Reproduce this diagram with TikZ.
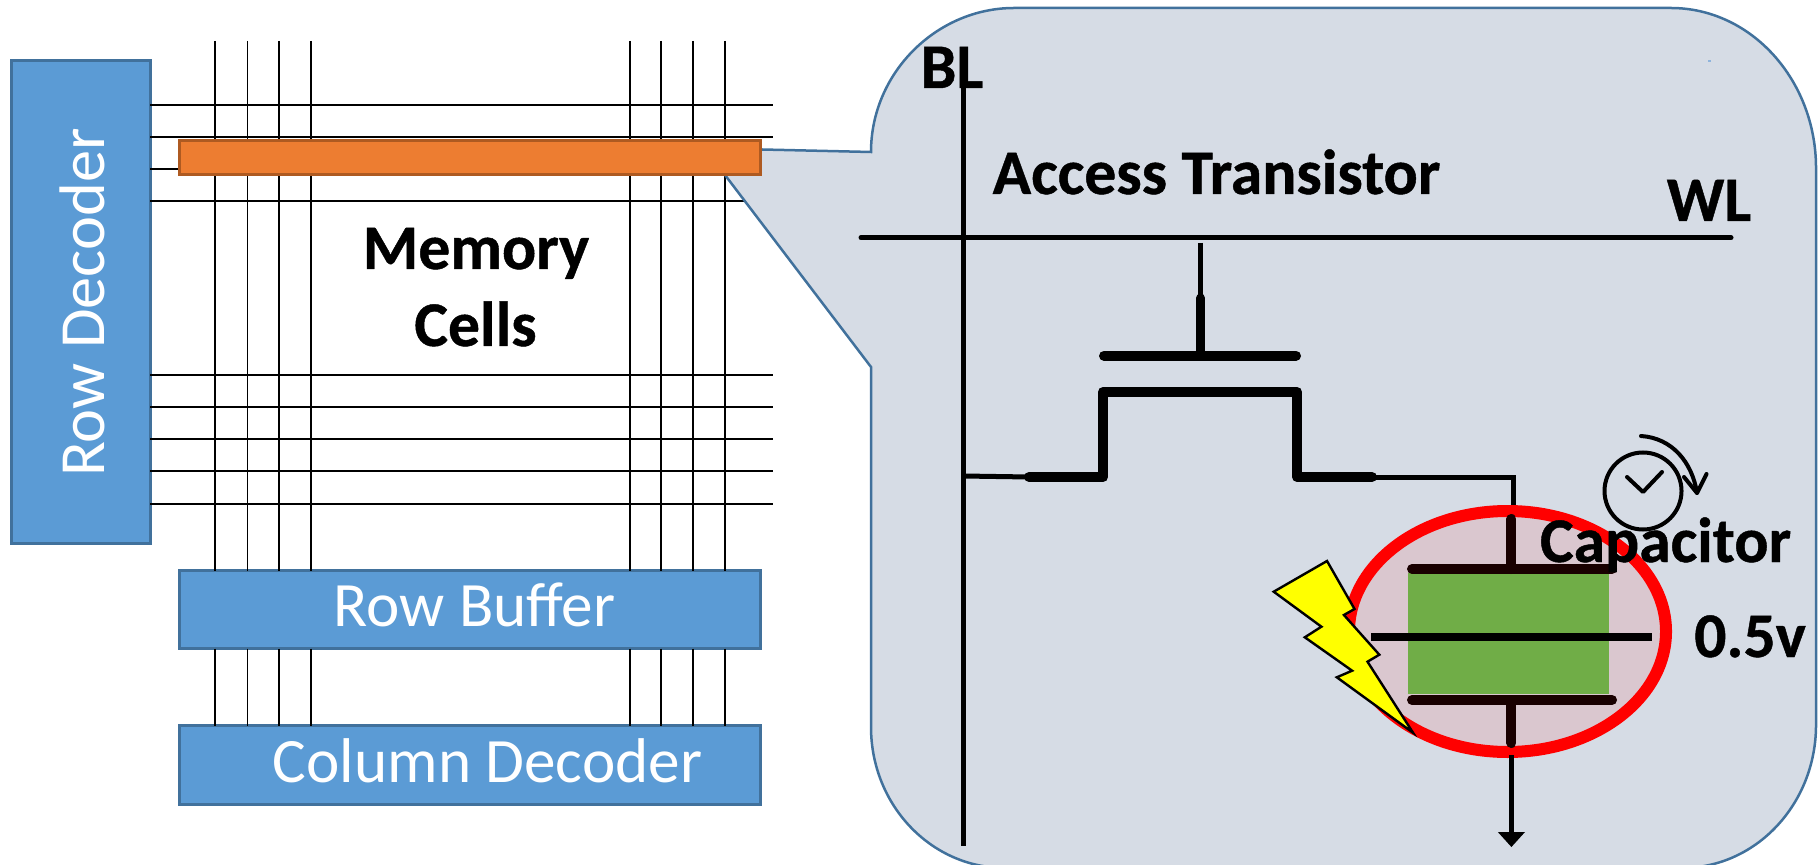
\documentclass[tikz,border=0pt]{standalone}
\usepackage{fontspec}
\setmainfont[BoldFeatures={FakeBold=0.7}]{Carlito}
\usetikzlibrary{arrows.meta,shapes.geometric}
\definecolor{boxblue}{HTML}{5B9BD5}
\definecolor{boxedge}{HTML}{41719C}
\definecolor{calloutfill}{HTML}{D6DCE5}
\definecolor{orangefill}{HTML}{ED7D31}
\definecolor{orangeedge}{HTML}{AE5A21}
\definecolor{pinkfill}{HTML}{DAC7CF}
\definecolor{greenfill}{HTML}{70AD47}
\definecolor{plate}{HTML}{190000}
\definecolor{speck}{HTML}{8FB4DC}
\definecolor{boltyellow}{rgb}{1,1,0}
\tikzset{
  blockbox/.style={draw=boxedge,fill=boxblue,line width=1.5pt,inner sep=0pt,outer sep=0pt},
  whitetext/.style={text=white,inner sep=0pt,anchor=base,font=\fontsize{31.6}{36}\selectfont},
  blacktext/.style={text=black,inner sep=0pt,anchor=base,font=\fontsize{31.8}{36}\selectfont\bfseries},
  gridh/.style={line width=1pt,black},
  gridv/.style={line width=0.85pt,black},
  wire/.style={line width=2.5pt,black},
  thickwire/.style={line width=5pt,black,line cap=round,line join=round},
  plateline/.style={line width=5pt,plate,line cap=round}
}
\begin{document}
\begin{tikzpicture}[x=0.5pt,y=-0.5pt]
\useasboundingbox (0,0) rectangle (1818,865);
% blocks (placed first so that the grid can refer to them)
\node[blockbox,minimum width=69.5pt,minimum height=241pt] (rd) at (80.5,302) {};
\node[blockbox,minimum width=290.75pt,minimum height=39pt] (rb) at (470,609.5) {};
\node[blockbox,minimum width=290.75pt,minimum height=39.25pt] (cd) at (470,765) {};
% grid
\foreach \y in {104.7,136.7,168.7,200.7,375,407,439,471,503.7}
  \draw[gridh] (rd.east |- 0,\y) -- (773,\y);
\foreach \x in {215,247.4,279,311,630,661,693,725}{
  \draw[gridv] (\x,41) -- (\x,0 |- rb.north);
  \draw[gridv] (\x,0 |- rb.south) -- (\x,0 |- cd.north);
}
% callout
\coordinate (ctip) at (725,175);
\coordinate (cback) at (762,149.5);
\draw[draw=boxedge,fill=calloutfill,line width=1.25pt,line join=miter]
  (cback) -- (871,152)
  .. controls (871,72.5) and (937,8) .. (1014,8) -- (1671,8)
  .. controls (1751,8) and (1816,80) .. (1816,168) -- (1816,725)
  .. controls (1816,804) and (1756,868) .. (1682,868) -- (1005,868)
  .. controls (931,868) and (871,805) .. (871,727) -- (871,367)
  -- (ctip) -- cycle;
\fill[speck] (1707.5,60) rectangle (1710.5,62.5);
% row selected
\node[draw=orangeedge,fill=orangefill,line width=1.5pt,inner sep=0pt,minimum width=290.75pt,minimum height=17pt] (sel) at (470,157.3) {};
% labels of blocks
\node[whitetext,rotate=90,font=\fontsize{32.2}{36}\selectfont] (rdt) at (104,302.5) {Row Decoder};
\node[whitetext] (rbt) at (474.5,626) {Row Buffer};
\node[whitetext] (cdt) at (487.5,782) {Column Decoder};
\node[blacktext] (m1) at (476,269) {Memory};
\node[blacktext] (m2) at (475.5,346) {Cells};
% circuit
\coordinate (bltop) at (963,81);
\coordinate (blbot) at (963,846);
\draw[wire] (bltop) -- (blbot);
\coordinate (wll) at (861,237.7);
\coordinate (wlr) at (1731,237.7);
\draw[wire,line cap=round] (wll) -- (wlr);
\coordinate (gtop) at (1200.6,243);
\coordinate (gmid) at (1200.6,298);
\coordinate (gbot) at (1200.6,355.7);
\draw[line width=2.25pt] (gtop) -- (gmid);
\draw[line width=4.5pt,line cap=round] (gmid) -- (gbot);
\draw[thickwire] (1104,355.7) -- (1296,355.7);
\coordinate (sl) at (1029,477);
\coordinate (dr) at (1372,477);
\draw[thickwire] (sl) -- (1103,477) -- (1103,392) -- (1297,392) -- (1297,477) -- (dr);
\coordinate (capin) at (1513,511);
\draw[wire] (963,476) -- (sl);
\draw[wire,line join=miter] (dr) -- (1513,477) -- (capin);
% capacitor
\node[draw=red,fill=pinkfill,line width=6pt,ellipse,inner sep=0pt,minimum width=158.5pt,minimum height=120.5pt] (capring) at (1507.5,631.5) {};
\node[fill=greenfill,inner sep=0pt,minimum width=100.5pt,minimum height=60.5pt] (diel) at (1508.5,633.5) {};
\draw[plateline] (1412,569) -- (1612,569);
\draw[plateline] (1412,700) -- (1612,700);
\draw[plateline] (1511.4,519) -- (1511.4,569);
\draw[plateline] (1511.4,700) -- (1511.4,743);
\draw[line width=4pt,black] (1371,637) -- (1652,637);
\coordinate (gnd) at (1511.4,847);
\draw[wire] (1511.4,755) -- (1511.4,835);
\fill[black] (1497.8,832) -- (1525,832) -- (gnd) -- cycle;
% lightning
\draw[fill=boltyellow,draw=black,line width=1.2pt,line join=miter]
  (1327,561) -- (1273.7,591.7) -- (1321.4,626.7) -- (1304.8,637.3) -- (1352.1,670.7)
  -- (1336.8,677.3) -- (1413,732.7) -- (1367.5,661.7) -- (1379.3,654.7)
  -- (1343.9,615) -- (1354.5,609) -- cycle;
% clock
\node[draw=black,line width=2pt,ellipse,inner sep=0pt,minimum width=38.5pt,minimum height=38.5pt] (clk) at (1643,491) {};
\draw[line width=2pt,line cap=round,line join=round] (1627,477) -- (1643,492) -- (1662,472);
\draw[line width=2pt,line cap=round] (1641,436) .. controls (1672,438) and (1692,462) .. (1697,493);
\draw[line width=2pt,line cap=round,line join=round] (1684,477) -- (1697,493) -- (1706.5,474);
% labels
\node[blacktext] (bl) at (952,88) {BL};
\node[blacktext] (at) at (1216.5,194) {Access Transistor};
\node[blacktext] (wl) at (1709,221) {WL};
\node[blacktext] (capt) at (1665.5,562) {Capacitor};
\node[blacktext] (volt) at (1750,657) {0.5v};
\end{tikzpicture}
\end{document}
